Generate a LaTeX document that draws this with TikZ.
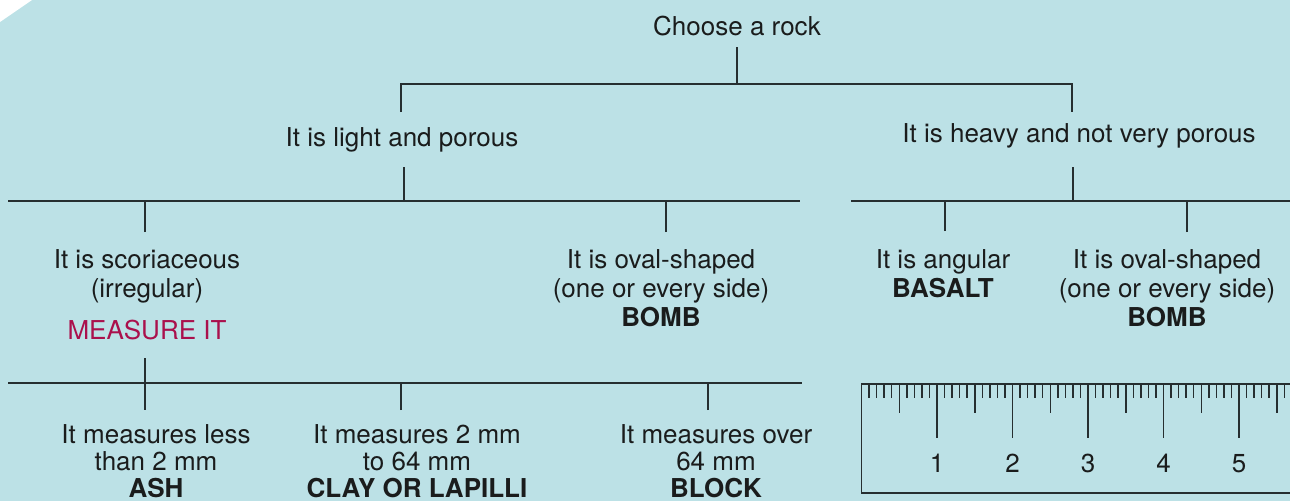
\documentclass[tikz,border=0pt]{standalone}
\usepackage{fontspec}
\setmainfont{TeX Gyre Heros}
\definecolor{bg}{RGB}{188,225,230}
\definecolor{ink}{RGB}{26,28,28}
\definecolor{ln}{RGB}{38,46,48}
\definecolor{hl}{RGB}{170,16,76}
\begin{document}
\begin{tikzpicture}[x=1pt,y=-1pt,
  txt/.style={font=\fontsize{26}{29}\selectfont, text=ink, inner sep=0pt, align=center, anchor=base},
  txtb/.style={txt, font=\fontsize{26}{27}\selectfont},
  conn/.style={draw=ln, line width=1.6pt},
  rul/.style={draw=ln, line width=1.4pt}]
\useasboundingbox (0,0) rectangle (1290,501);
\clip (0,0) rectangle (1290,501);
\fill[bg] (0,0) rectangle (1290,501);
\fill[white] (0,0) -- (32,0) -- (0,22) -- cycle;

% nodes (anchor = baseline of the last line)
\node[txt] (root) at (737,35) {Choose a rock};
\node[txt] (light) at (402,146) {It is light and porous};
\node[txt] (heavy) at (1079,142) {It is heavy and not very porous};
\node[txt] (scor) at (147,297) {It is scoriaceous\\(irregular)};
\node[txt, text=hl] (meas) at (147,339) {MEASURE IT};
\node[txt] (ovalL) at (661,326) {It is oval-shaped\\(one or every side)\\\textbf{BOMB}};
\node[txt] (ang) at (943,297) {It is angular\\\textbf{BASALT}};
\node[txt] (ovalR) at (1167,326) {It is oval-shaped\\(one or every side)\\\textbf{BOMB}};
\node[txtb] (ash) at (156,497) {It measures less\\than 2 mm\\\textbf{ASH}};
\node[txtb] (clay) at (417,497) {It measures 2 mm\\to 64 mm\\\textbf{CLAY OR LAPILLI}};
\node[txtb] (block) at (716,497) {It measures over\\64 mm\\\textbf{BLOCK}};

% junction coordinates
\coordinate (r0) at (737,47);
\coordinate (r1) at (737,84);
\coordinate (a1) at (401,84);
\coordinate (a2) at (401,112);
\coordinate (b1) at (1072,84);
\coordinate (b2) at (1072,112);
\coordinate (l0) at (404,167);
\coordinate (l1) at (404,201);
\coordinate (h0) at (1073,167);
\coordinate (h1) at (1073,201);
\coordinate (hl0) at (8,201);
\coordinate (hl1) at (800,201);
\coordinate (hr0) at (851,201);
\coordinate (hr1) at (1290,201);
\coordinate (s0) at (145,232);
\coordinate (oL0) at (666,232);
\coordinate (an0) at (945,231);
\coordinate (oR0) at (1187,232);
\coordinate (m0) at (145,358);
\coordinate (m1) at (145,410);
\coordinate (bl0) at (8,383);
\coordinate (bl1) at (802,383);
\coordinate (c0) at (401,410);
\coordinate (k0) at (708,410);

% connectors
\draw[conn] (r0) -- (r1);
\draw[conn] (a2) -- (a1) -- (b1) -- (b2);
\draw[conn] (l0) -- (l1);
\draw[conn] (h0) -- (h1);
\draw[conn] (hl0) -- (hl1);
\draw[conn] (hr0) -- (hr1);
\draw[conn] (s0) -- (s0 |- hl0);
\draw[conn] (oL0) -- (oL0 |- hl0);
\draw[conn] (an0) -- (an0 |- hr0);
\draw[conn] (oR0) -- (oR0 |- hr0);
\draw[conn] (m0) -- (m1);
\draw[conn] (bl0) -- (bl1);
\draw[conn] (c0) -- (c0 |- bl0);
\draw[conn] (k0) -- (k0 |- bl0);

% ruler
\draw[rul] (1300,384) -- (861.5,384) -- (861.5,493) -- (1300,493);
\foreach \i in {1,...,58} {
  \pgfmathsetmacro{\tl}{mod(\i,10)==0 ? 54 : (mod(\i,5)==0 ? 29 : 14)}
  \draw[rul, line width=1.5pt] (861.5+7.55*\i,384) -- ++(0,\tl);
}
\foreach \n in {1,...,5} {
  \node[txt] (num\n) at (861.5+75.5*\n,472) {\n};
}
\end{tikzpicture}
\end{document}
